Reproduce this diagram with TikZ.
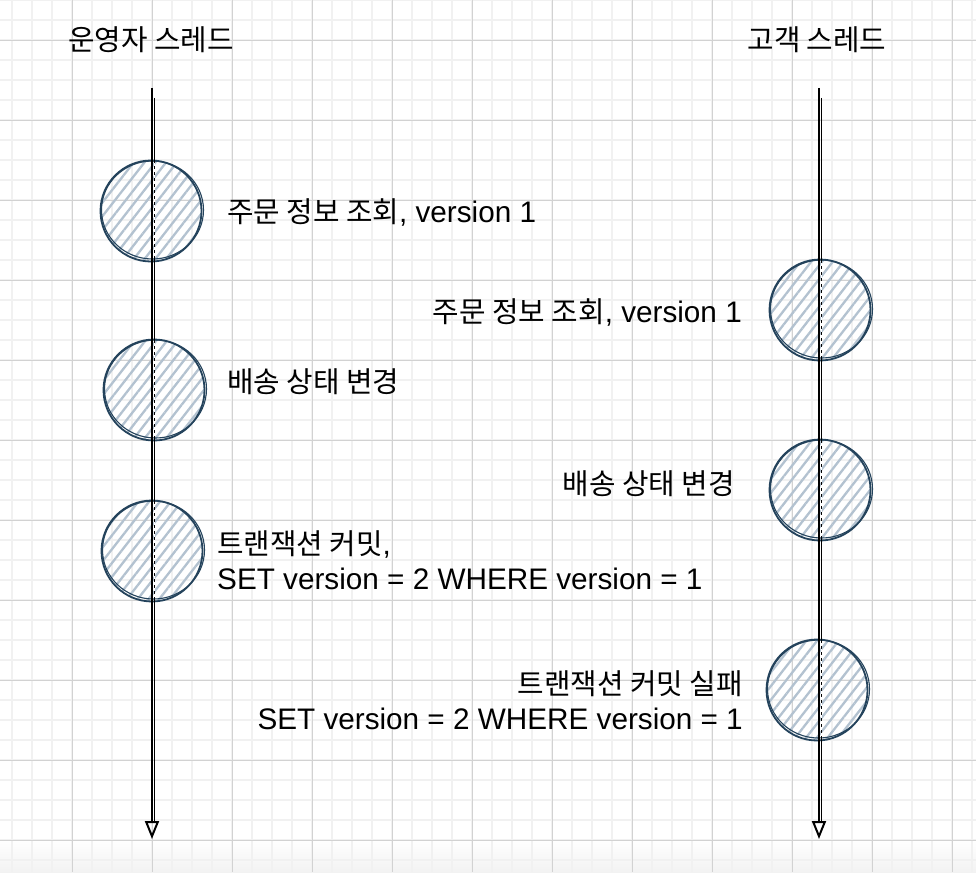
\documentclass[tikz,border=0pt]{standalone}
\usepackage{fontspec}
\setmainfont{Liberation Sans}
\newfontfamily\kofont[Scale=0.97]{Noto Sans CJK KR}
\usetikzlibrary{calc}
\usetikzlibrary{arrows.meta}
\usetikzlibrary{patterns.meta}

\definecolor{evtline}{HTML}{24435C}
\definecolor{hatch}{HTML}{B3C2D0}
\definecolor{gridminor}{HTML}{F1F1F1}
\definecolor{gridmajor}{HTML}{D2D2D2}

\newcommand{\ko}[1]{{\kofont #1}}

\tikzset{
  evt/.style={circle, minimum size=101pt, inner sep=0pt, draw=evtline, line width=1.8pt,
              pattern={Lines[angle=52,distance=8.5pt,line width=2.3pt]}, pattern color=hatch},
  sketch/.style={draw=evtline, line width=1.1pt},
  tline/.style={line width=1.7pt, -{Triangle[open,length=18pt,width=14pt,line width=2pt]}},
  tlinetwo/.style={line width=1.1pt, shorten >=16pt},
  gapdash/.style={white, line width=1.1pt, dash pattern=on 3pt off 3pt},
  lbl/.style={inner sep=0pt, font=\fontsize{29.7}{35}\selectfont, align=left},
}

\begin{document}
\begin{tikzpicture}[x=1pt,y=-1pt]
 \useasboundingbox (0,0) rectangle (976,872);
 \fill[white] (0,0) rectangle (976,872);
 \fill[top color=white, bottom color=gray!10] (0,840) rectangle (976,872);
 % grid
 \foreach \gx in {12,32,...,972}
   \draw[gridminor, line width=1.5pt] (\gx,0) -- (\gx,872);
 \foreach \gy in {0,20,...,860}
   \draw[gridminor, line width=1.5pt] (0,\gy) -- (976,\gy);
 \foreach \gx in {72,152,...,952}
   \draw[gridmajor, line width=0.8pt] (\gx,0) -- (\gx,872);
 \foreach \gy in {40,120,...,840}
   \draw[gridmajor, line width=0.8pt] (0,\gy) -- (976,\gy);

 % events
 \node[evt] (op1) at (151,211) {};
 \node[evt] (op2) at (154,390) {};
 \node[evt] (op3) at (152,551) {};
 \node[evt] (cu1) at (820,310) {};
 \node[evt] (cu2) at (820,490) {};
 \node[evt] (cu3) at (817,690) {};
 \foreach \n in {op1,op2,op3,cu1,cu2,cu3}
   \draw[sketch] ($(\n.center)+(1.5,-1)$) ellipse [x radius=51pt, y radius=49pt];

 % threads
 \coordinate (optop) at (152,88);
 \coordinate (opend) at (152,839);
 \coordinate (cutop) at (819,88);
 \coordinate (cuend) at (819,839);
 \draw[tline] (optop) -- (opend);
 \draw[tline] (cutop) -- (cuend);
 \draw[tlinetwo] ($(optop)+(2.6,10)$) -- ($(opend)+(2.6,0)$);
 \draw[tlinetwo] ($(cutop)+(2.6,10)$) -- ($(cuend)+(2.6,0)$);
 \foreach \n/\t in {op1/optop,op2/optop,op3/optop,cu1/cutop,cu2/cutop,cu3/cutop}
   \draw[gapdash] ($(\t |- \n.north)+(2.6,4)$) -- ($(\t |- \n.south)+(2.6,-4)$);

 % labels
 \node[lbl, anchor=base] (ophead) at (151,51) {\ko{운영자 스레드}};
 \node[lbl, anchor=base] (cuhead) at (817,51) {\ko{고객 스레드}};
 \node[lbl, anchor=base west] (opread) at (227,222) {\ko{주문 정보 조회}, version 1};
 \node[lbl, anchor=base west] (opship) at (227,392) {\ko{배송 상태 변경}};
 \node[lbl, anchor=south west] (opcommit) at (217,590)
   {\ko{트랜잭션 커밋},\\SET version = 2 WHERE version = 1};
 \node[lbl, anchor=base east] (curead) at (742,322) {\ko{주문 정보 조회}, version 1};
 \node[lbl, anchor=base east] (cuship) at (735,494) {\ko{배송 상태 변경}};
 \node[lbl, anchor=south east, align=right] (cufail) at (743,730)
   {\ko{트랜잭션 커밋 실패}\\SET version = 2 WHERE version = 1};
\end{tikzpicture}
\end{document}
